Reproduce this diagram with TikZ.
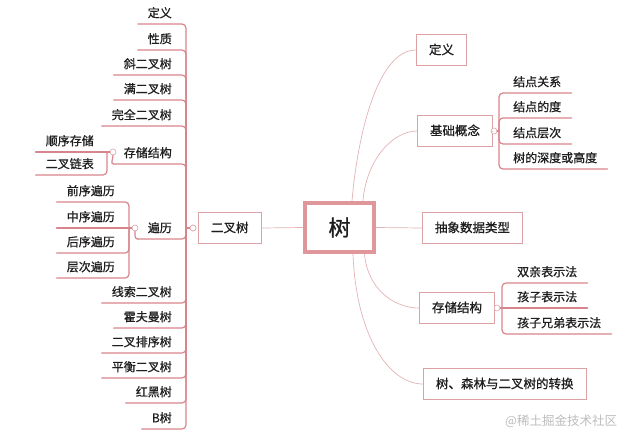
\documentclass[tikz,border=0pt]{standalone}
\usepackage{fontspec}
\setmainfont{Noto Sans CJK SC}[FakeBold=0.9]
\newfontfamily\wmfont{Noto Sans CJK SC}
\usetikzlibrary{calc}
\definecolor{lineC}{HTML}{E3B3B6}
\definecolor{ulC}{HTML}{D7848C}
\definecolor{boxC}{HTML}{DCA2A6}
\definecolor{rootC}{HTML}{E0979B}
\definecolor{wmC}{HTML}{BCBCBC}
\definecolor{txtC}{HTML}{1E1E1E}
\begin{document}
\begin{tikzpicture}[x=1pt,y=-1pt,
  conn/.style={draw=lineC, line width=0.7pt},
  uline/.style={draw=ulC, line width=1.2pt, line cap=round},
  leaf/.style={inner xsep=10pt, inner ysep=5pt, text height=10pt, text depth=1.5pt, text=txtC, font=\fontsize{12}{14}\selectfont},
  mbox/.style={draw=boxC, line width=1pt, fill=white, inner xsep=12.5pt, minimum height=31pt, text height=10pt, text depth=1.5pt, text=txtC, font=\fontsize{12.5}{15}\selectfont},
  rootbox/.style={draw=rootC, line width=4pt, fill=white, minimum width=69pt, minimum height=49pt, text=txtC, font=\fontsize{22}{26}\selectfont},
  mkr/.style={circle, draw=boxC, line width=0.6pt, fill=white, inner sep=0pt, minimum size=6pt},
]
\useasboundingbox (0,0) rectangle (640,442);

% root and binary tree
\node[rootbox] (root) at (339.5,227.5) {树};
\node[mbox, anchor=west] (bt) at (198,228) {二叉树};
\node[mkr] (mB) at (193,228) {};
\coordinate (sp) at (186,228);
\draw[conn] (bt.east) -- (root.west);

% left leaves
\node[leaf, anchor=south east] (l1) at (182,24) {定义};
\node[leaf, anchor=south east] (l2) at (182,50) {性质};
\node[leaf, anchor=south east] (l3) at (182,75) {斜二叉树};
\node[leaf, anchor=south east] (l4) at (182,100) {满二叉树};
\node[leaf, anchor=south east] (l5) at (182,126) {完全二叉树};
\node[leaf, anchor=south east] (l6) at (182,164) {存储结构};
\node[leaf, anchor=south east] (l7) at (182,239) {遍历};
\node[leaf, anchor=south east] (l8) at (182,303) {线索二叉树};
\node[leaf, anchor=south east] (l9) at (182,328) {霍夫曼树};
\node[leaf, anchor=south east] (l10) at (182,353) {二叉排序树};
\node[leaf, anchor=south east] (l11) at (182,378) {平衡二叉树};
\node[leaf, anchor=south east] (l12) at (182,403) {红黑树};
\node[leaf, anchor=south east] (l13) at (182,429) {B树};
\foreach \n in {l1,l2,l3,l4,l5,l6,l7,l8,l9,l10,l11,l12,l13}
  \draw[uline, rounded corners=4pt] (sp) |- (\n.south west);
\draw[uline] (mB.west) -- (sp);
\node[mkr] at (mB) {};

% left storage group
\node[mkr] (mS) at (113,152) {};
\coordinate (bS) at (107,152);
\node[leaf, anchor=south east] (s1) at (104,152) {顺序存储};
\node[leaf, anchor=south east] (s2) at (104,175) {二叉链表};
\draw[uline] (mS.west) -- (s1.south west);
\draw[uline, rounded corners=4pt] (bS) |- (s2.south west);
\draw[uline] (mS.south) to[out=-90,in=180] (l6.south west);

% traversal group
\node[mkr] (mT) at (135,228) {};
\coordinate (bT) at (129,228);
\node[leaf, anchor=south east] (t1) at (125,202) {前序遍历};
\node[leaf, anchor=south east] (t2) at (125,228) {中序遍历};
\node[leaf, anchor=south east] (t3) at (125,253) {后序遍历};
\node[leaf, anchor=south east] (t4) at (125,278) {层次遍历};
\draw[uline] (mT.west) -- (t2.south west);
\foreach \n in {t1,t3,t4}
  \draw[uline, rounded corners=4pt] (bT) |- (\n.south west);
\draw[uline] (mT.south) to[out=-90,in=180] (l7.south west);

% right side
\node[mbox, anchor=west] (r1) at (416,50) {定义};
\node[mbox, anchor=west] (r2) at (417,131) {基础概念};
\node[mbox, anchor=west] (r3) at (422,228) {抽象数据类型};
\node[mbox, anchor=west] (r4) at (419,308) {存储结构};
\node[mbox, anchor=west] (r5) at (423,384) {树、森林与二叉树的转换};

\draw[conn] ($(root.north)+(12.5,0)$) .. controls +(5,-60) and +(-40,0) .. (r1.west);
\draw[conn] ($(root.north)+(23.5,0)$) .. controls +(3,-40) and +(-25,0) .. (r2.west);
\draw[conn] (root.east) -- (r3.west);
\draw[conn] ($(root.south)+(25,0)$) .. controls +(3,35) and +(-25,0) .. (r4.west);
\draw[conn] ($(root.south)+(13.5,0)$) .. controls +(3,80) and +(-35,0) .. (r5.west);

% basic concepts group
\node[mkr] (mJ) at (494,131) {};
\coordinate (bJ) at (499,131);
\node[leaf, anchor=south west] (j1) at (503,93) {结点关系};
\node[leaf, anchor=south west] (j2) at (503,118) {结点的度};
\node[leaf, anchor=south west] (j3) at (503,144) {结点层次};
\node[leaf, anchor=south west] (j4) at (503,169) {树的深度或高度};
\draw[conn] (r2.east) -- (mJ.west);
\draw[uline] (mJ.east) -- (bJ);
\foreach \n in {j1,j2,j3,j4}
  \draw[uline, rounded corners=4pt] (bJ) |- (\n.south east);

% storage structure group
\node[mkr] (mR) at (497,308) {};
\coordinate (bR) at (502,308);
\node[leaf, anchor=south west] (k1) at (507,283) {双亲表示法};
\node[leaf, anchor=south west] (k2) at (507,308) {孩子表示法};
\node[leaf, anchor=south west] (k3) at (507,334) {孩子兄弟表示法};
\draw[conn] (r4.east) -- (mR.west);
\draw[uline] (mR.east) -- (k2.south east);
\foreach \n in {k1,k3}
  \draw[uline, rounded corners=4pt] (bR) |- (\n.south east);

% watermark
\node[anchor=west, inner sep=0pt, text=wmC, font=\wmfont\fontsize{12.5}{15}\selectfont] (wm) at (505,421) {@稀土掘金技术社区};
\end{tikzpicture}
\end{document}
